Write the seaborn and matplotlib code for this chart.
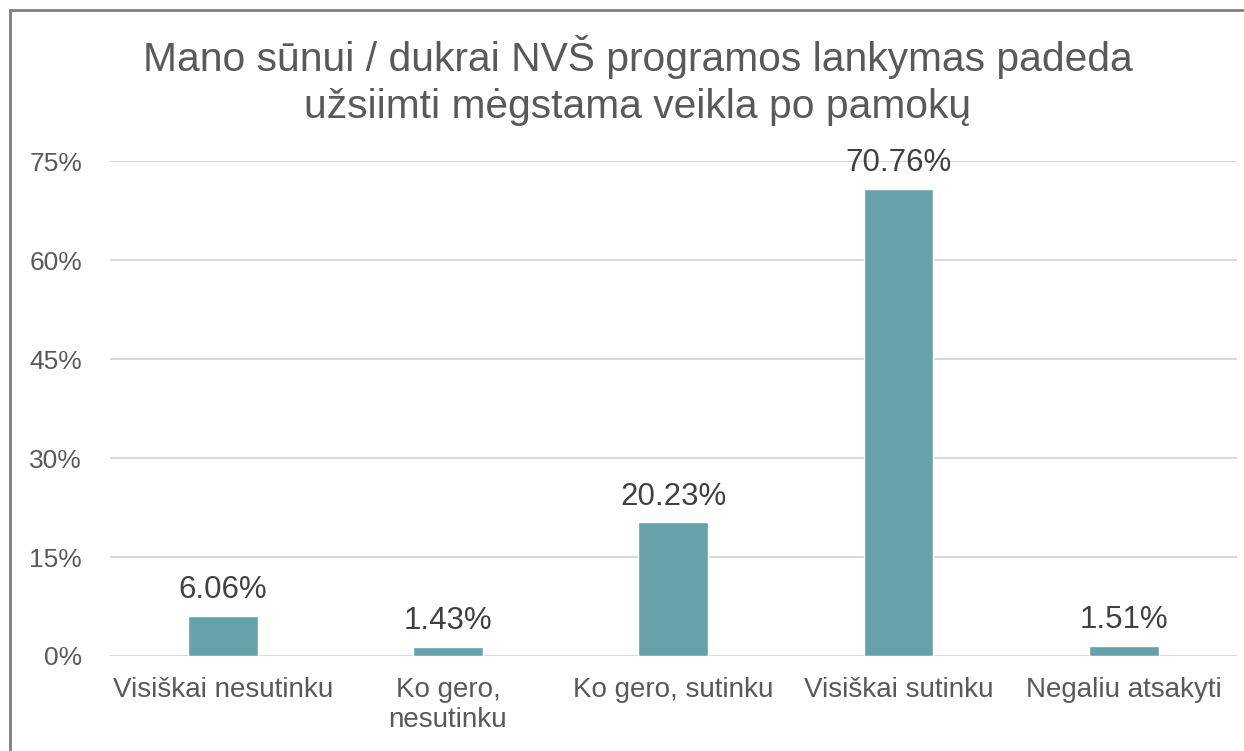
import seaborn as sns
import matplotlib.pyplot as plt
from matplotlib.lines import Line2D
from matplotlib.ticker import FuncFormatter

# duomenys
kategorijos = ["Visiškai nesutinku", "Ko gero,\nnesutinku", "Ko gero, sutinku",
               "Visiškai sutinku", "Negaliu atsakyti"]
procentai = [6.06, 1.43, 20.23, 70.76, 1.51]
y_ticks = [0, 15, 30, 45, 60, 75]
pavadinimas = ["Mano sūnui / dukrai NVŠ programos lankymas padeda",
               "užsiimti mėgstama veikla po pamokų"]

sns.set_theme(style="white")
plt.rcParams['font.family'] = ['Liberation Sans', 'DejaVu Sans']

fig = plt.figure(figsize=(12.44, 7.51), dpi=100)
ax = fig.add_axes([0.0884, 0.1265, 0.9056, 0.6591])

sns.barplot(x=kategorijos, y=procentai, color="#67A1AA", width=0.31,
            saturation=1, ax=ax, zorder=3)

ax.set_ylim(0, 75)
ax.set_yticks(y_ticks)
ax.yaxis.set_major_formatter(FuncFormatter(lambda v, p: f"{v:.0f}%"))
ax.grid(axis="y", color="#D9D9D9", linewidth=1.5, zorder=0)
for s in ax.spines.values():
    s.set_visible(False)
ax.tick_params(axis="both", length=0, labelcolor="#595959")
ax.tick_params(axis="y", pad=20, labelsize=19)
ax.tick_params(axis="x", pad=15, labelsize=20)

for i, v in enumerate(procentai):
    ax.text(i, v + 2.7, f"{v:.2f}%", ha="center", va="baseline",
            fontsize=22.5, color="#404040")

# pavadinimas, dvi eilutės
fig.text(638 / 1244, 1 - 71 / 751, pavadinimas[0], ha="center", va="baseline",
         fontsize=29.3, color="#595959")
fig.text(638 / 1244, 1 - 118 / 751, pavadinimas[1], ha="center", va="baseline",
         fontsize=29.3, color="#595959")

# rėmelis
fig.add_artist(Line2D([10 / 1244, 1], [1 - 10 / 751, 1 - 10 / 751],
                      transform=fig.transFigure, color="#7F7F7F", linewidth=2))
fig.add_artist(Line2D([10 / 1244, 10 / 1244], [0, 1 - 10 / 751],
                      transform=fig.transFigure, color="#7F7F7F", linewidth=2))

plt.savefig("out.png", dpi=100)
